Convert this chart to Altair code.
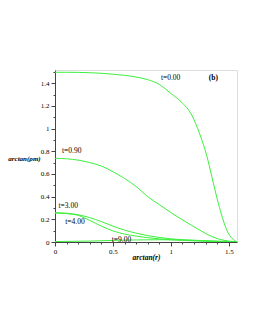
import altair as alt
import pandas as pd

x0 = [0, 0.1, 0.2, 0.3, 0.4, 0.5, 0.6, 0.7, 0.8, 0.9, 1.0, 1.09, 1.18, 1.25, 1.31, 1.353, 1.41, 1.485, 1.5708]
y0 = [1.497, 1.497, 1.496, 1.493, 1.488, 1.48, 1.47, 1.455, 1.432, 1.39, 1.31, 1.235, 1.12, 0.95, 0.76, 0.58, 0.34, 0.1, 0.0]

x1 = [0, 0.1, 0.2, 0.3, 0.4, 0.5, 0.6, 0.7, 0.8, 0.9, 1.0, 1.1, 1.2, 1.3, 1.4, 1.5, 1.5708]
y09 = [0.738, 0.734, 0.722, 0.70, 0.67, 0.62, 0.56, 0.49, 0.40, 0.33, 0.26, 0.195, 0.135, 0.075, 0.03, 0.008, 0.0]

x3 = [0, 0.1, 0.2, 0.3, 0.4, 0.5, 0.6, 0.7, 0.8, 0.9, 1.0, 1.1, 1.2, 1.3, 1.4, 1.5708]
y3 = [0.258, 0.254, 0.24, 0.215, 0.18, 0.14, 0.105, 0.078, 0.056, 0.04, 0.028, 0.02, 0.014, 0.009, 0.005, 0.0]
y4 = [0.255, 0.25, 0.235, 0.19, 0.14, 0.098, 0.07, 0.052, 0.038, 0.028, 0.02, 0.014, 0.01, 0.006, 0.003, 0.0]

x9 = [0, 0.3, 0.5, 0.7, 0.9, 1.1, 1.3, 1.45, 1.5708]
y9 = [0.004, 0.008, 0.014, 0.018, 0.02, 0.018, 0.012, 0.006, 0.0]

label_text = ["t=0.00", "t=0.90", "t=3.00", "t=4.00", "t=9.00"]
label_x = [0.914, 0.06, 0.03, 0.088, 0.49]
label_y = [1.445, 0.80, 0.317, 0.179, 0.022]

panel_text = ["(b)"]
panel_x = [1.327]
panel_y = [1.445]

x_major_ticks = [0, 0.5, 1, 1.5]
y_major_ticks = [0, 0.2, 0.4, 0.6, 0.8, 1, 1.2, 1.4]
x_minor_ticks = [round(i * 0.1, 1) for i in range(16)]
y_minor_ticks = [round(i * 0.1, 1) for i in range(16)]

rows = []
for name, xs, ys in [("t0", x0, y0), ("t09", x1, y09), ("t3", x3, y3), ("t4", x3, y4), ("t9", x9, y9)]:
    for i, (a, b) in enumerate(zip(xs, ys)):
        rows.append({"series": name, "x": a, "y": b, "order": i})
df = pd.DataFrame(rows)
labels = pd.DataFrame({"text": label_text, "x": label_x, "y": label_y})
panel = pd.DataFrame({"text": panel_text, "x": panel_x, "y": panel_y})

FONT = "Liberation Serif"
GREEN = "#3cf03c"

xscale = alt.Scale(domain=[0, 1.5708], nice=False, zero=False)
yscale = alt.Scale(domain=[0, 1.517], nice=False, zero=False)

xaxis = alt.Axis(
    orient="bottom", values=x_major_ticks, format="~g", tickSize=4,
    labelOverlap=False, labelFlush=False,
    grid=False, domainColor="#444", tickColor="#444",
    labelFont=FONT, labelFontSize=7, labelColor="#000", labelPadding=1,
    title="arctan(r)", titleFont=FONT, titleFontSize=7.5, titleFontStyle="italic",
    titleFontWeight="bold", titleX=91, titleY=15, titleBaseline="middle",
    titleAlign="center",
)
yaxis = alt.Axis(
    orient="left", values=y_major_ticks, format="~g", tickSize=4,
    labelOverlap=False, labelFlush=False,
    grid=False, domainColor="#444", tickColor="#444",
    labelFont=FONT, labelFontSize=7, labelColor="#000", labelPadding=2,
    title="arctan(ρm)", titleFont=FONT, titleFontSize=7, titleFontStyle="italic",
    titleFontWeight="bold", titleAngle=0, titleX=-31, titleY=88,
    titleBaseline="middle", titleAlign="center",
)
xaxis_minor = alt.Axis(
    orient="bottom", values=x_minor_ticks, tickSize=2, labels=False, title=None,
    domain=False, grid=False, tickColor="#444",
)
yaxis_minor = alt.Axis(
    orient="left", values=y_minor_ticks, tickSize=2, labels=False, title=None,
    domain=False, grid=False, tickColor="#444",
)

lines = alt.Chart(df).mark_line(color=GREEN, strokeWidth=1, clip=True, interpolate="monotone").encode(
    x=alt.X("x:Q", scale=xscale, axis=xaxis),
    y=alt.Y("y:Q", scale=yscale, axis=yaxis),
    detail="series:N",
    order="order:Q",
)

text = alt.Chart(labels).mark_text(
    font=FONT, fontSize=7.5, align="left", baseline="middle", color="#000"
).encode(
    x=alt.X("x:Q", scale=xscale, axis=xaxis_minor),
    y=alt.Y("y:Q", scale=yscale, axis=yaxis_minor),
    text="text:N",
)

ptext = alt.Chart(panel).mark_text(
    font=FONT, fontSize=7.5, fontWeight="bold", align="left", baseline="middle", color="#000"
).encode(
    x=alt.X("x:Q", scale=xscale, axis=None),
    y=alt.Y("y:Q", scale=yscale, axis=None),
    text="text:N",
)

chart = (lines + text + ptext).resolve_axis(x="independent", y="independent").properties(
    width=182, height=172,
    autosize=alt.AutoSizeParams(type="none"),
    padding={"left": 47, "top": 62, "right": 10, "bottom": 80},
).configure_view(stroke="#666", strokeWidth=1).configure(background="white")

chart.save("out.html", embed_options={"renderer": "svg", "actions": False})
